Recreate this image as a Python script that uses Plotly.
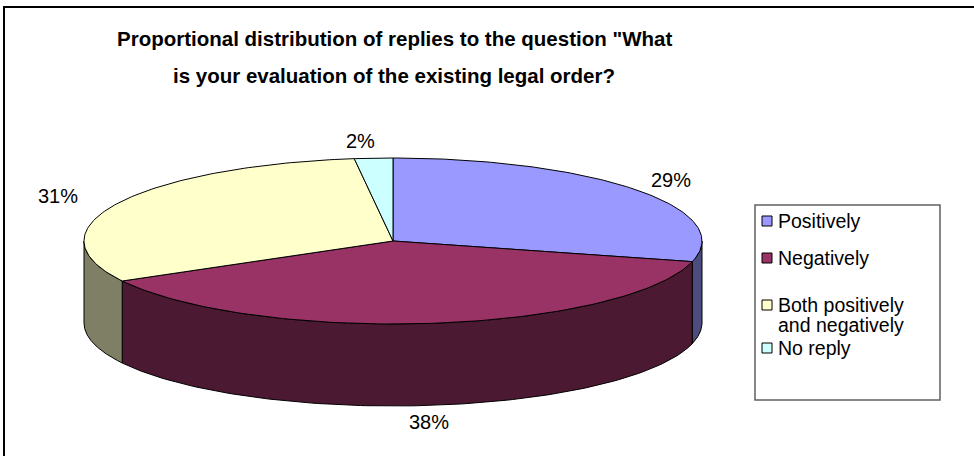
import numpy as np
import plotly.graph_objects as go

# Survey data
categories = ["Positively", "Negatively", "Both positively and negatively", "No reply"]
legend_text = ["Positively", "Negatively", "Both positively<br>and negatively", "No reply"]
shares = [29, 38, 31, 2]
top_colors = ["#9999FF", "#993366", "#FFFFCC", "#CCFFFF"]
title_lines = [
    'Proportional distribution of replies to the question "What',
    "is your evaluation of the existing legal order?",
]

W, H = 974, 456
FONT = "Arial, Liberation Sans, sans-serif"

# Pie geometry (pixel space, y grows downward)
CX, CY, RX, RY, DEPTH = 393, 241, 309, 83, 82
# Ellipse on which the percentage labels are centred
LCX, LRX, LRY = CX - 10, 365, 100


def shade(hex_color, f=0.5):
    h = hex_color.lstrip("#")
    r, g, b = (int(h[i:i + 2], 16) for i in (0, 2, 4))
    return "#{:02X}{:02X}{:02X}".format(int(r * f), int(g * f), int(b * f))


def arc(a0, a1, dy=0.0, n=120):
    """Points on the pie rim; angles in degrees, clockwise from 12 o'clock."""
    t = np.radians(np.linspace(a0, a1, n))
    return list(CX + RX * np.sin(t)), list(CY - RY * np.cos(t) + dy)


total = float(sum(shares))
bounds = np.concatenate([[0.0], np.cumsum(shares) / total * 360.0])

fig = go.Figure()

# Side walls (only the front half of the rim is visible)
for i, c in enumerate(top_colors):
    a0, a1 = max(bounds[i], 90.0), min(bounds[i + 1], 270.0)
    if a1 <= a0:
        continue
    xt, yt = arc(a0, a1)
    xb, yb = arc(a1, a0, DEPTH)
    fig.add_trace(go.Scatter(
        x=xt + xb + [xt[0]], y=yt + yb + [yt[0]],
        mode="lines", fill="toself", fillcolor=shade(c),
        line=dict(color="black", width=1),
        hoverinfo="skip", showlegend=False,
    ))

# Top faces of the slices
for i, c in enumerate(top_colors):
    xs, ys = arc(bounds[i], bounds[i + 1])
    fig.add_trace(go.Scatter(
        x=[CX] + xs + [CX], y=[CY] + ys + [CY],
        mode="lines", fill="toself", fillcolor=c,
        line=dict(color="black", width=1),
        name=categories[i], hoverinfo="skip", showlegend=False,
    ))

# Percentage labels placed outside the rim at each slice's mid-angle
for i, v in enumerate(shares):
    m = np.radians((bounds[i] + bounds[i + 1]) / 2)
    s, c = np.sin(m), np.cos(m)
    px = LCX + LRX * s
    py = CY - LRY * c + (DEPTH if c < 0 else 0)
    fig.add_annotation(
        x=px, y=py, text=f"{v}%", showarrow=False,
        xanchor="center", yanchor="middle",
        font=dict(family=FONT, size=20, color="black"),
    )

# Title
for k, line in enumerate(title_lines):
    fig.add_annotation(
        x=394, y=38 + 37 * k, text=f"<b>{line}</b>", showarrow=False,
        xanchor="center", yanchor="middle",
        font=dict(family=FONT, size=20.5, color="black"),
    )

# Legend
LX0, LY0, LX1, LY1 = 755, 205, 940, 400
LINE_GAP = 20
fig.add_shape(type="rect", x0=LX0, y0=LY0, x1=LX1, y1=LY1,
              line=dict(color="#606060", width=1.5), fillcolor="white", layer="below")
legend_y = [221, 258, 305, 348]
fig.add_trace(go.Scatter(
    x=[LX0 + 12] * len(top_colors), y=legend_y, mode="markers",
    marker=dict(symbol="square", size=10, color=top_colors,
                line=dict(color="black", width=1)),
    hoverinfo="skip", showlegend=False,
))
for yv, txt in zip(legend_y, legend_text):
    for j, part in enumerate(txt.split("<br>")):
        fig.add_annotation(
            x=LX0 + 21, y=yv + j * LINE_GAP, text=part, showarrow=False,
            xanchor="left", yanchor="middle", align="left",
            font=dict(family=FONT, size=19.5, color="black"),
        )

# Chart-area frame
fig.add_shape(type="rect", x0=4, y0=7, x1=W + 5, y1=H + 5,
              line=dict(color="black", width=2), layer="above")

fig.update_xaxes(range=[0, W], visible=False, fixedrange=True)
fig.update_yaxes(range=[H, 0], visible=False, fixedrange=True)
fig.update_layout(
    width=W, height=H, margin=dict(l=0, r=0, t=0, b=0),
    paper_bgcolor="white", plot_bgcolor="white", showlegend=False,
)

fig.write_html("out.html")
